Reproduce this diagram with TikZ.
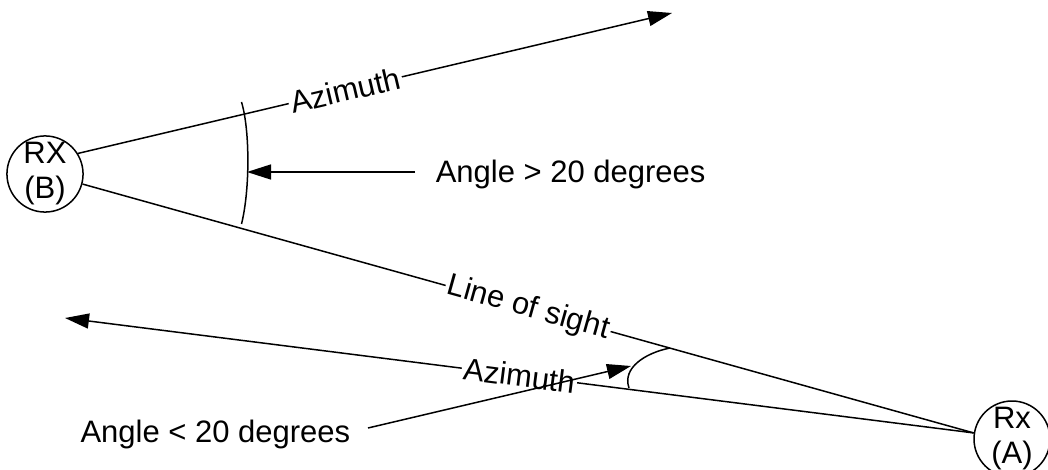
\documentclass[tikz,border=0pt]{standalone}
\usepackage{fontspec}
\setmainfont{Liberation Sans}
\usetikzlibrary{arrows.meta}
\begin{document}
\begin{tikzpicture}[x=1pt,y=-1pt,line width=1.5pt,
  txt/.style={font=\fontsize{31}{35}\selectfont},
  stn/.style={draw,circle,txt,align=center,inner sep=0pt,minimum size=76pt},
  lbl/.style={txt,sloped,fill=white,inner sep=2pt},
  arr/.style={-{Triangle[length=24pt,width=15pt]}},
  note/.style={txt,text height=21pt,text depth=0pt,inner sep=0pt}]
\useasboundingbox (0,0) rectangle (1048,470);
\node[stn] (B) at (45,174) {RX\\(B)};
\node[stn] (A) at (1012,439) {Rx\\(A)};
\coordinate (t1) at (672,13);
\coordinate (t2) at (65,318);
\draw[arr] (B.32) -- node[lbl,pos=0.45] (az1) {Azimuth} (t1);
\draw (B.-15) -- node[lbl,pos=0.5] (los) {Line of sight} (A.171);
\draw[arr] (A.171) -- node[lbl,pos=0.5] (az2) {Azimuth} (t2);
% angle arcs
\draw (241.5,102) .. controls (250,130) and (250,190) .. (241.5,224);
\draw (670,348) .. controls (645,353) and (622,368) .. (629,388);
% notes
\node[note,anchor=west] (n1) at (435,172) {Angle > 20 degrees};
\node[note,anchor=east] (n2) at (351,432) {Angle < 20 degrees};
\coordinate (s1) at (415,172);
\coordinate (e1) at (247,172);
\coordinate (s2) at (368,428);
\coordinate (e2) at (631,366);
\draw[arr] (s1) -- (e1);
\draw[arr] (s2) -- (e2);
\end{tikzpicture}
\end{document}
